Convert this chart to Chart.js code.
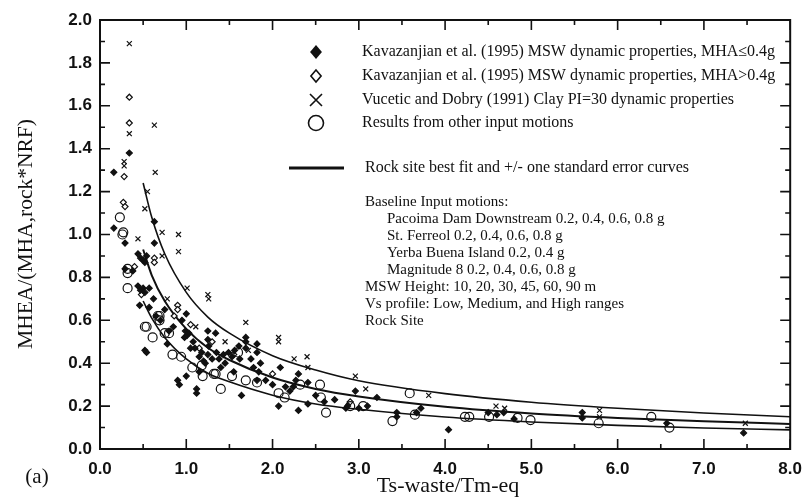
<!DOCTYPE html>
<html>
<head>
<meta charset="utf-8">
<script src="https://cdn.jsdelivr.net/npm/chart.js@4.4.0/dist/chart.umd.min.js"></script>
<style>
html,body{margin:0;padding:0;background:#fff;}
</style>
</head>
<body>
<canvas id="myChart" width="812" height="501"></canvas>
<script>
'use strict';

// tick labels
const xTicks = [0, 1, 2, 3, 4, 5, 6, 7, 8];
const yTicks = [0, 0.2, 0.4, 0.6, 0.8, 1.0, 1.2, 1.4, 1.6, 1.8, 2.0];

// Kavazanjian et al. (1995), MHA<=0.4g (filled diamonds)
const lowX = [0.34,0.16,0.63,0.16,0.29,0.63,0.44,0.47,0.50,0.52,0.54,0.29,0.38,0.44,0.47,0.50,0.52,0.57,0.46,0.57,
  0.75,1.00,0.99,1.01,1.03,0.98,0.54,0.78,1.15,1.20,1.25,1.30,1.22,0.92,0.90,1.00,1.12,1.12,1.25,1.25,
  1.26,1.34,1.69,1.69,1.69,1.82,1.82,1.53,1.56,1.61,1.38,1.43,1.49,1.82,1.84,1.86,1.92,2.09,2.24,2.27,
  2.30,2.41,1.64,2.07,2.30,2.41,2.72,2.85,2.96,3.21,2.87,3.00,3.10,3.44,3.44,3.67,3.72,4.04,4.50,4.60,
  4.68,4.80,5.59,5.59,6.57,7.46,0.70,0.85,0.95,1.10,1.40,1.55,1.75,2.00,2.20,2.50,2.60,0.62,0.65,1.05,
  1.15,1.35,0.80,0.52,1.08,1.18,1.45,1.62,1.78,2.15];
const lowY = [1.38,1.29,1.06,1.03,0.96,0.96,0.91,0.89,0.88,0.87,0.90,0.84,0.83,0.76,0.74,0.75,0.73,0.75,0.67,0.66,
  0.65,0.63,0.55,0.53,0.54,0.52,0.45,0.49,0.43,0.41,0.44,0.42,0.40,0.30,0.32,0.34,0.26,0.28,0.55,0.51,
  0.48,0.54,0.47,0.50,0.52,0.45,0.49,0.43,0.46,0.48,0.42,0.44,0.45,0.32,0.36,0.40,0.32,0.38,0.29,0.32,
  0.35,0.31,0.25,0.20,0.18,0.21,0.23,0.19,0.27,0.24,0.20,0.19,0.20,0.17,0.15,0.17,0.19,0.09,0.17,0.16,
  0.17,0.14,0.17,0.145,0.12,0.075,0.60,0.57,0.60,0.47,0.38,0.36,0.42,0.30,0.27,0.25,0.22,0.70,0.62,0.47,
  0.36,0.45,0.55,0.46,0.50,0.45,0.40,0.42,0.38,0.29];

// Kavazanjian et al. (1995), MHA>0.4g (open diamonds)
const highX = [0.34,0.34,0.28,0.27,0.29,0.63,0.63,0.90,0.90,0.40,0.86,1.05,1.30,1.55,2.00,2.90,0.48,1.15];
const highY = [1.64,1.52,1.27,1.15,1.13,0.89,0.87,0.67,0.65,0.85,0.62,0.58,0.50,0.44,0.35,0.22,0.72,0.47];

// Vucetic and Dobry (1991) clay PI=30 (crosses)
const clayX = [0.34,0.34,0.63,0.28,0.28,0.64,0.52,0.72,0.91,0.44,0.91,0.72,1.01,1.25,1.26,0.78,1.11,1.69,2.07,2.07,
  2.25,2.40,2.41,2.96,3.08,3.81,4.59,4.69,5.79,5.79,7.48,0.55,1.45,1.72];
const clayY = [1.89,1.47,1.51,1.34,1.32,1.29,1.12,1.01,1.00,0.98,0.92,0.90,0.75,0.72,0.70,0.70,0.57,0.59,0.52,0.50,
  0.42,0.43,0.38,0.34,0.28,0.25,0.20,0.19,0.18,0.15,0.12,1.20,0.50,0.46];

// other input motions (open circles)
const otherX = [0.23,0.27,0.26,0.32,0.32,0.32,0.69,0.69,0.54,0.61,0.80,0.84,0.94,1.07,1.19,1.32,1.40,1.53,1.69,1.82,
  2.07,2.14,2.32,2.55,2.56,2.62,3.59,3.39,2.90,3.05,3.65,4.23,4.28,4.51,4.84,4.99,5.78,6.39,6.60,0.52,
  0.75,0.67,1.18,1.34,1.60];
const otherY = [1.08,1.01,1.00,0.84,0.82,0.75,0.62,0.60,0.57,0.52,0.54,0.44,0.43,0.38,0.34,0.35,0.28,0.34,0.32,0.31,
  0.26,0.24,0.30,0.30,0.24,0.17,0.26,0.13,0.20,0.20,0.16,0.15,0.15,0.15,0.145,0.135,0.12,0.15,0.10,0.57,
  0.54,0.62,0.39,0.35,0.45];

// rock site best fit and +/- one standard error curves
const fitX     = [0.5, 0.6, 0.75, 1, 1.25, 1.5, 2, 2.5, 3, 4, 5, 6, 7, 8];
const fitUpper = [1.24, 1.08, 0.91, 0.73, 0.615, 0.54, 0.435, 0.368, 0.318, 0.258, 0.218, 0.19, 0.168, 0.15];
const fitMid   = [0.93, 0.81, 0.69, 0.56, 0.472, 0.415, 0.333, 0.28, 0.245, 0.197, 0.166, 0.145, 0.129, 0.117];
const fitLower = [0.69, 0.61, 0.52, 0.42, 0.353, 0.313, 0.251, 0.21, 0.185, 0.149, 0.126, 0.11, 0.098, 0.089];

const legendRows = [
  { mark: 'fdiamond', text: 'Kavazanjian et al. (1995) MSW dynamic properties, MHA\u22640.4g' },
  { mark: 'odiamond', text: 'Kavazanjian et al. (1995) MSW dynamic properties, MHA>0.4g' },
  { mark: 'cross', text: 'Vucetic and Dobry (1991) Clay PI=30 dynamic properties' },
  { mark: 'circle', text: 'Results from other input motions' },
  { mark: 'line', text: 'Rock site best fit and +/- one standard error curves' }
];
const noteLines = [
  ['Baseline Input motions:', 0],
  ['Pacoima Dam Downstream 0.2, 0.4, 0.6, 0.8 g', 1],
  ['St. Ferreol 0.2, 0.4, 0.6, 0.8 g', 1],
  ['Yerba Buena Island 0.2, 0.4 g', 1],
  ['Magnitude 8 0.2, 0.4, 0.6, 0.8 g', 1],
  ['MSW Height: 10, 20, 30, 45, 60, 90 m', 0],
  ['Vs profile: Low, Medium, and High ranges', 0],
  ['Rock Site', 0]
];

function pts(xs, ys) {
  return xs.map(function (v, i) { return { x: v, y: ys[i] }; });
}

const INK = '#111';
const SERIF = '"Liberation Serif", "Times New Roman", serif';
const SANS = '"Liberation Sans", Arial, sans-serif';

function drawMark(ctx, mark, x, y, r) {
  ctx.save();
  ctx.strokeStyle = INK; ctx.fillStyle = INK; ctx.lineWidth = 1.6;
  ctx.beginPath();
  if (mark === 'fdiamond' || mark === 'odiamond') {
    ctx.moveTo(x, y - r); ctx.lineTo(x + r * 0.85, y); ctx.lineTo(x, y + r); ctx.lineTo(x - r * 0.85, y); ctx.closePath();
    if (mark === 'fdiamond') ctx.fill(); else ctx.stroke();
  } else if (mark === 'cross') {
    ctx.moveTo(x - r, y - r); ctx.lineTo(x + r, y + r);
    ctx.moveTo(x + r, y - r); ctx.lineTo(x - r, y + r);
    ctx.stroke();
  } else if (mark === 'circle') {
    ctx.arc(x, y, r, 0, Math.PI * 2); ctx.stroke();
  } else if (mark === 'line') {
    ctx.lineWidth = 3;
    ctx.moveTo(x - 27, y); ctx.lineTo(x + 28, y); ctx.stroke();
  }
  ctx.restore();
}

const decorPlugin = {
  id: 'decor',
  afterDraw: function (chart) {
    const ctx = chart.ctx;
    const a = chart.chartArea;
    const xs = chart.scales.x, ys = chart.scales.y;
    ctx.save();
    // frame
    ctx.strokeStyle = INK; ctx.lineWidth = 2;
    ctx.strokeRect(a.left, a.top, a.right - a.left, a.bottom - a.top);
    // inward ticks on all four sides
    ctx.lineWidth = 1.6;
    ctx.beginPath();
    for (let i = 0; i <= 16; i++) {
      const px = xs.getPixelForValue(i * 0.5);
      const len = i % 2 === 0 ? 10 : 5;
      ctx.moveTo(px, a.bottom); ctx.lineTo(px, a.bottom - len);
      ctx.moveTo(px, a.top); ctx.lineTo(px, a.top + len);
    }
    for (let i = 0; i <= 20; i++) {
      const py = ys.getPixelForValue(i * 0.1);
      const len = i % 2 === 0 ? 10 : 5;
      ctx.moveTo(a.left, py); ctx.lineTo(a.left + len, py);
      ctx.moveTo(a.right, py); ctx.lineTo(a.right - len, py);
    }
    ctx.stroke();

    // axis titles
    ctx.fillStyle = INK;
    ctx.font = '22px ' + SERIF;
    ctx.textAlign = 'center'; ctx.textBaseline = 'middle';
    ctx.fillText('Ts-waste/Tm-eq', 448, 486);
    ctx.save();
    ctx.translate(26, 234); ctx.rotate(-Math.PI / 2);
    ctx.font = '21.5px ' + SERIF;
    ctx.fillText('MHEA/(MHA,rock*NRF)', 0, 0);
    ctx.restore();
    ctx.font = '21px ' + SERIF;
    ctx.fillText('(a)', 37, 477);

    // legend
    ctx.textAlign = 'left';
    ctx.font = '16px ' + SERIF;
    const rowY = [52, 76, 100, 123, 168];
    const sizes = { fdiamond: 7, odiamond: 6, cross: 6, circle: 7.5, line: 0 };
    legendRows.forEach(function (row, i) {
      drawMark(ctx, row.mark, 316, rowY[i], sizes[row.mark]);
      ctx.fillText(row.text, row.mark === 'line' ? 365 : 362, rowY[i]);
    });
    ctx.font = '15px ' + SERIF;
    noteLines.forEach(function (n, i) {
      ctx.fillText(n[0], n[1] ? 387 : 365, 202 + i * 17);
    });
    ctx.restore();
  }
};

const scatterBase = { type: 'scatter', showLine: false, borderWidth: 1.2, borderColor: INK };

const ctx = document.getElementById('myChart');
const myChart = new Chart(ctx, {
  type: 'scatter',
  data: {
    datasets: [
      Object.assign({}, scatterBase, { label: 'other', data: pts(otherX, otherY), pointStyle: 'circle',
        pointRadius: 4.5, backgroundColor: 'rgba(255,255,255,0)' }),
      Object.assign({}, scatterBase, { label: 'low', data: pts(lowX, lowY), pointStyle: 'rectRot',
        pointRadius: 3, backgroundColor: INK }),
      Object.assign({}, scatterBase, { label: 'high', data: pts(highX, highY), pointStyle: 'rectRot',
        pointRadius: 3, backgroundColor: '#fff' }),
      Object.assign({}, scatterBase, { label: 'clay', data: pts(clayX, clayY), pointStyle: 'crossRot',
        pointRadius: 3.5, backgroundColor: INK }),
      { type: 'line', label: 'upper', data: pts(fitX, fitUpper), borderColor: INK, borderWidth: 1.6,
        pointRadius: 0, fill: false, cubicInterpolationMode: 'monotone' },
      { type: 'line', label: 'mid', data: pts(fitX, fitMid), borderColor: INK, borderWidth: 2,
        pointRadius: 0, fill: false, cubicInterpolationMode: 'monotone' },
      { type: 'line', label: 'lower', data: pts(fitX, fitLower), borderColor: INK, borderWidth: 1.6,
        pointRadius: 0, fill: false, cubicInterpolationMode: 'monotone' }
    ]
  },
  options: {
    responsive: false,
    animation: false,
    devicePixelRatio: 1,
    layout: { padding: { left: 0, top: 20, right: 15, bottom: 0 } },
    plugins: { legend: { display: false }, tooltip: { enabled: false } },
    scales: {
      x: {
        type: 'linear', min: 0, max: 8,
        grid: { display: false, drawTicks: false },
        border: { display: false },
        afterBuildTicks: function (s) { s.ticks = xTicks.map(function (v) { return { value: v }; }); },
        afterFit: function (s) { s.height = 52; },
        ticks: { padding: 10, color: INK, font: { family: SANS, size: 17, weight: 'bold' },
          maxRotation: 0, callback: function (v) { return Number(v).toFixed(1); } }
      },
      y: {
        type: 'linear', min: 0, max: 2,
        grid: { display: false, drawTicks: false },
        border: { display: false },
        afterBuildTicks: function (s) { s.ticks = yTicks.map(function (v) { return { value: v }; }); },
        afterFit: function (s) { s.width = 100; },
        ticks: { padding: 8, color: INK, font: { family: SANS, size: 17, weight: 'bold' },
          callback: function (v) { return Number(v).toFixed(1); } }
      }
    }
  },
  plugins: [decorPlugin]
});
</script>
</body>
</html>
